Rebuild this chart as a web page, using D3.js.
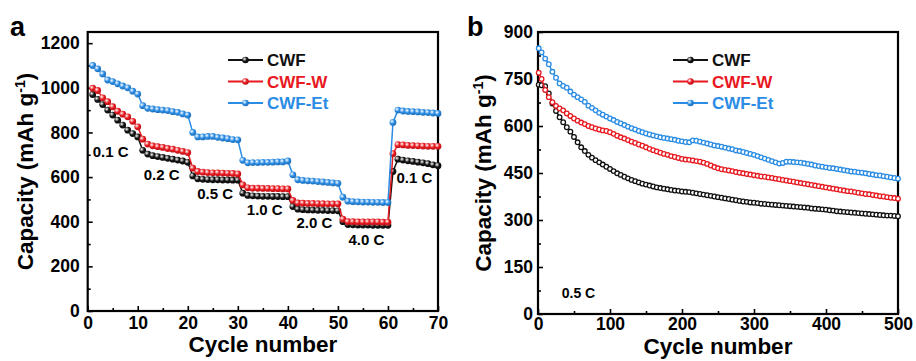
<!DOCTYPE html>
<html>
<head>
<meta charset="utf-8">
<script src="https://cdn.jsdelivr.net/npm/d3@7"></script>
<style>
  body { margin: 0; background: #fff; }
  svg text { font-family: "Liberation Sans", Arial, sans-serif; font-weight: bold; fill: #000; }
</style>
</head>
<body>
<div id="chart"></div>
<script>
// series names and colours
const seriesNames = ['CWF', 'CWF-W', 'CWF-Et'];
const seriesColors = ['#111111', '#e8191f', '#2a8ce4'];

// panel a: rate capability, cycles 1..70
const rateCycles = d3.range(1, 71);
const cwfRate = [970, 948, 925, 900, 878, 855, 833, 810, 795, 780,
  720, 703, 696, 692, 688, 684, 680, 676, 672, 666,
  605, 592, 590, 589, 588, 588, 587, 587, 586, 586,
  528, 518, 516, 515, 514, 514, 513, 513, 512, 512,
  468, 456, 454, 453, 452, 451, 451, 450, 450, 449,
  400, 387, 386, 385, 385, 385, 384, 384, 384, 384,
  625, 680, 676, 673, 670, 667, 664, 660, 655, 651];
const cwfWRate = [998, 988, 955, 938, 915, 895, 882, 870, 850, 825,
  770, 748, 740, 736, 733, 728, 725, 720, 715, 710,
  640, 625, 622, 620, 619, 619, 618, 617, 616, 614,
  565, 552, 550, 550, 549, 549, 548, 548, 547, 547,
  495, 484, 483, 482, 482, 481, 481, 480, 480, 480,
  412, 400, 400, 399, 399, 399, 399, 399, 398, 398,
  705, 745, 744, 742, 741, 740, 739, 738, 738, 738];
const cwfEtRate = [1100, 1085, 1062, 1035, 1028, 1018, 1008, 1000, 985, 972,
  920, 908, 905, 902, 900, 898, 893, 890, 883, 878,
  800, 780, 780, 782, 782, 778, 775, 772, 768, 767,
  675, 664, 665, 665, 666, 666, 667, 668, 668, 672,
  610, 588, 585, 583, 582, 580, 578, 576, 574, 572,
  510, 492, 490, 489, 488, 488, 487, 487, 486, 486,
  845, 900, 896, 894, 893, 892, 890, 889, 887, 885];

// rate labels in panel a (placed at cycle / capacity)
const rateLabels = [
  { text: '0.1 C', cycle: 1, cap: 690 },
  { text: '0.2 C', cycle: 11.2, cap: 588 },
  { text: '0.5 C', cycle: 21.9, cap: 500 },
  { text: '1.0 C', cycle: 31.8, cap: 432 },
  { text: '2.0 C', cycle: 41.7, cap: 370 },
  { text: '4.0 C', cycle: 52.1, cap: 296 },
  { text: '0.1 C', cycle: 61.7, cap: 572 }
];

// panel b: cycling at 0.5 C, read every 5 cycles
const longCycles = [1].concat(d3.range(5, 501, 5));
const cwfLong = [732,
  730, 727, 704, 672, 648, 628, 612, 596, 582, 565,
  548, 532, 520, 508, 499, 491, 484, 477, 470, 463,
  456, 449, 444, 438, 433, 428, 424, 420, 416, 413,
  410, 407, 404, 402, 400, 398, 396, 394, 393, 391,
  390, 389, 387, 385, 383, 381, 379, 377, 375, 373,
  371, 369, 367, 365, 363, 361, 359, 358, 356, 355,
  354, 352, 351, 350, 349, 348, 347, 346, 345, 344,
  343, 342, 341, 340, 339, 337, 336, 335, 334, 333,
  331, 330, 328, 327, 326, 325, 324, 323, 322, 321,
  320, 319, 318, 317, 316, 315, 314, 314, 313, 312];
const cwfWLong = [770,
  750, 715, 692, 676, 664, 656, 650, 640, 632, 624,
  617, 611, 606, 600, 596, 592, 589, 586, 584, 580,
  575, 569, 564, 560, 555, 550, 546, 541, 537, 532,
  527, 523, 519, 515, 511, 508, 504, 501, 498, 495,
  493, 492, 490, 488, 486, 483, 479, 474, 469, 465,
  462, 460, 458, 456, 453, 451, 449, 447, 445, 443,
  441, 439, 438, 436, 434, 432, 430, 428, 426, 424,
  422, 420, 418, 416, 414, 412, 410, 408, 406, 404,
  402, 400, 398, 396, 394, 392, 391, 389, 387, 385,
  383, 382, 380, 378, 376, 375, 373, 371, 370, 368];
const cwfEtLong = [848,
  835, 815, 797, 773, 754, 736, 728, 722, 710, 700,
  692, 685, 677, 665, 658, 650, 642, 636, 630, 624,
  619, 613, 608, 603, 598, 593, 589, 584, 580, 576,
  573, 570, 567, 564, 562, 560, 558, 556, 553, 551,
  549, 548, 554, 553, 550, 547, 544, 541, 538, 536,
  534, 531, 528, 526, 522, 520, 517, 514, 511, 508,
  504, 500, 496, 492, 488, 484, 480, 482, 486, 486,
  485, 484, 483, 481, 479, 477, 474, 472, 470, 468,
  466, 465, 463, 461, 459, 457, 455, 454, 452, 451,
  449, 447, 445, 443, 442, 440, 438, 436, 434, 432];

const svg = d3.select('#chart').append('svg')
  .attr('width', 916)
  .attr('height', 361);

// ball-like gradients for the markers
const defs = svg.append('defs');
seriesColors.forEach((c, i) => {
  const g = defs.append('radialGradient')
    .attr('id', `ball${i}`)
    .attr('cx', '35%').attr('cy', '35%').attr('r', '65%');
  g.append('stop').attr('offset', '0%').attr('stop-color', '#ffffff');
  g.append('stop').attr('offset', '55%').attr('stop-color', c);
  g.append('stop').attr('offset', '100%').attr('stop-color', d3.color(c).darker(0.6));
});

function drawPanel(opts) {
  const x = d3.scaleLinear().domain(opts.xDomain).range([opts.left, opts.right]);
  const y = d3.scaleLinear().domain(opts.yDomain).range([opts.bottom, opts.top]);
  const g = svg.append('g');

  // ticks (inward), major + minor
  const xAx = g.append('g').attr('transform', `translate(0,${opts.bottom})`)
    .call(d3.axisBottom(x).tickValues(opts.xTicks).tickSize(-5).tickPadding(opts.xPad).tickFormat(d3.format('d')));
  g.append('g').attr('transform', `translate(0,${opts.bottom})`)
    .call(d3.axisBottom(x).tickValues(opts.xMinor).tickSize(-3).tickFormat(''));
  const yAx = g.append('g').attr('transform', `translate(${opts.left},0)`)
    .call(d3.axisLeft(y).tickValues(opts.yTicks).tickSize(-5).tickPadding(opts.yPad).tickFormat(d3.format('d')));
  g.append('g').attr('transform', `translate(${opts.left},0)`)
    .call(d3.axisLeft(y).tickValues(opts.yMinor).tickSize(-3).tickFormat(''));
  g.selectAll('.domain').remove();
  g.selectAll('.tick line').attr('stroke', '#000').attr('stroke-width', 1.6);
  xAx.selectAll('text').style('font-size', '17.5px');
  yAx.selectAll('text').style('font-size', '17.5px');

  // frame
  g.append('rect')
    .attr('x', opts.left).attr('y', opts.top)
    .attr('width', opts.right - opts.left).attr('height', opts.bottom - opts.top)
    .attr('fill', 'none').attr('stroke', '#000').attr('stroke-width', 2.2);

  // series
  const line = d3.line().x(d => x(d[0])).y(d => y(d[1]));
  opts.series.forEach((vals, i) => {
    const pts = opts.xs.map((c, k) => [c, vals[k]]);
    g.append('path').datum(pts)
      .attr('d', line)
      .attr('fill', 'none')
      .attr('stroke', seriesColors[i])
      .attr('stroke-width', 1.5);
    g.append('g').selectAll('circle').data(pts).join('circle')
      .attr('cx', d => x(d[0]))
      .attr('cy', d => y(d[1]))
      .attr('r', opts.r)
      .attr('fill', opts.ball ? `url(#ball${i})` : '#ffffff')
      .attr('stroke', opts.ball ? 'none' : seriesColors[i])
      .attr('stroke-width', 1.3);
  });

  // legend
  seriesNames.forEach((name, i) => {
    const ly = opts.legendY + i * 21.5;
    g.append('line')
      .attr('x1', opts.legendX).attr('x2', opts.legendX + 35)
      .attr('y1', ly).attr('y2', ly)
      .attr('stroke', seriesColors[i]).attr('stroke-width', 2);
    g.append('circle')
      .attr('cx', opts.legendX + 17.5).attr('cy', ly).attr('r', 3.3)
      .attr('fill', `url(#ball${i})`);
    g.append('text')
      .attr('x', opts.legendX + 39).attr('y', ly)
      .attr('dy', '0.36em')
      .style('font-size', '17px')
      .style('fill', seriesColors[i])
      .text(name);
  });

  // axis titles
  g.append('text')
    .attr('x', (opts.left + opts.right) / 2).attr('y', opts.titleY)
    .attr('text-anchor', 'middle')
    .style('font-size', '22.5px')
    .text('Cycle number');
  const yt = g.append('text')
    .attr('transform', `translate(${opts.yTitleX},${(opts.top + opts.bottom) / 2}) rotate(-90)`)
    .attr('text-anchor', 'middle')
    .style('font-size', '22.5px');
  yt.append('tspan').text('Capacity (mAh g');
  yt.append('tspan').attr('dy', -8).style('font-size', '14px').text('-1');
  yt.append('tspan').attr('dy', 8).text(')');

  // panel letter
  g.append('text')
    .attr('x', opts.letterX).attr('y', 36)
    .style('font-size', '27px')
    .text(opts.letter);

  return { g, x, y };
}

// panel a
const pa = drawPanel({
  letter: 'a', letterX: 10,
  left: 87.7, right: 438, top: 32, bottom: 311,
  xDomain: [0, 70], yDomain: [0, 1250],
  xTicks: d3.range(0, 71, 10), xMinor: d3.range(5, 70, 10),
  yTicks: d3.range(0, 1201, 200), yMinor: d3.range(100, 1250, 200),
  xPad: 6, yPad: 8, titleY: 352,
  xs: rateCycles,
  series: [cwfRate, cwfWRate, cwfEtRate],
  r: 3.4, ball: true,
  legendX: 228, legendY: 60,
  yTitleX: 33
});
rateLabels.forEach(l => {
  pa.g.append('text')
    .attr('x', pa.x(l.cycle)).attr('y', pa.y(l.cap))
    .style('font-size', '15px')
    .text(l.text);
});

// panel b
const pb = drawPanel({
  letter: 'b', letterX: 467,
  left: 538, right: 898, top: 32, bottom: 314,
  xDomain: [0, 500], yDomain: [0, 900],
  xTicks: d3.range(0, 501, 100), xMinor: d3.range(50, 500, 100),
  yTicks: d3.range(0, 901, 150), yMinor: d3.range(75, 900, 150),
  xPad: 4, yPad: 5, titleY: 354,
  xs: longCycles,
  series: [cwfLong, cwfWLong, cwfEtLong],
  r: 2.3, ball: false,
  legendX: 673, legendY: 60,
  yTitleX: 491
});
pb.g.append('text')
  .attr('x', pb.x(33)).attr('y', pb.y(50))
  .style('font-size', '14px')
  .text('0.5 C');
</script>
</body>
</html>
